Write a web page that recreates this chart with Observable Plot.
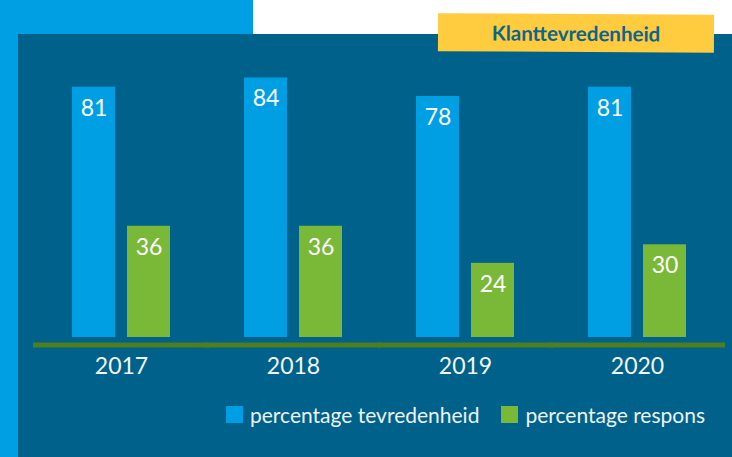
<!DOCTYPE html>
<html>
<head>
<meta charset="utf-8">
<script src="https://cdn.jsdelivr.net/npm/d3@7"></script>
<script src="https://cdn.jsdelivr.net/npm/@observablehq/plot@0.6"></script>
<style>
  html, body { margin: 0; padding: 0; background: #ffffff; }
  #wrap { position: relative; width: 732px; height: 457px; overflow: hidden; font-family: Lato, "Noto Sans", sans-serif; }
  .bg-light { position: absolute; left: 0; top: 0; width: 253px; height: 457px; background: #009FE3; }
  .bg-panel { position: absolute; left: 18px; top: 34px; right: 0; bottom: 0; background: #00618A; }
  #chart { position: absolute; left: 0; top: 0; }
  #badge { position: absolute; left: 438px; top: 14px; width: 276px; height: 37.5px; background: #FFCB3F;
           transform: rotate(0.35deg); display: flex; align-items: center; justify-content: center;
           font-weight: 700; font-size: 20.5px; color: #0F648A; }
  #legend { position: absolute; left: 226px; top: 402px; display: flex; align-items: center;
            font-size: 21px; color: #EEF3F6; white-space: nowrap; }
  .sw { width: 17px; height: 17px; display: inline-block; margin-right: 7px; }
  .item { display: flex; align-items: center; margin-right: 22px; }
</style>
</head>
<body>
<div id="wrap">
  <div class="bg-light"></div>
  <div class="bg-panel"></div>
  <div id="chart"></div>
  <div id="badge">Klanttevredenheid</div>
  <div id="legend"></div>
</div>
<script>
const years = ["2017", "2018", "2019", "2020"];
const tevredenheid = [81, 84, 78, 81];
const respons = [36, 36, 24, 30];
const seriesNames = ["percentage tevredenheid", "percentage respons"];
const seriesColors = ["#009FE3", "#7AB838"];

const data = years.flatMap((yr, i) => [
  {year: yr, series: seriesNames[0], value: tevredenheid[i]},
  {year: yr, series: seriesNames[1], value: respons[i]}
]);

const chart = Plot.plot({
  width: 732,
  height: 457,
  marginLeft: 35,
  marginRight: 9,
  marginTop: 28,
  marginBottom: 120,
  style: {background: "transparent", fontFamily: "Lato, 'Noto Sans', sans-serif", overflow: "visible"},
  fx: {domain: years, padding: 0, axis: null},
  x: {domain: seriesNames, paddingInner: 0.2143, paddingOuter: 0.643, axis: null},
  y: {domain: [0, 100], axis: null},
  color: {domain: seriesNames, range: seriesColors},
  marks: [
    Plot.barY(data, {fx: "year", x: "series", y: "value", fill: "series"}),
    Plot.text(data, {fx: "year", x: "series", y: "value", text: d => String(d.value),
      dy: 21, fill: "#ffffff", fontSize: 23}),
    Plot.ruleY([0], {dy: 7.5, stroke: "#4E7F1F", strokeWidth: 5, insetLeft: -2, insetRight: -2}),
    Plot.text(years, {fx: d => d, text: d => d, frameAnchor: "bottom", dy: 36,
      fill: "#F2F6F8", fontSize: 23})
  ]
});
document.getElementById("chart").appendChild(chart);

const legend = document.getElementById("legend");
seriesNames.forEach((name, i) => {
  const item = document.createElement("div");
  item.className = "item";
  const sw = document.createElement("span");
  sw.className = "sw";
  sw.style.background = seriesColors[i];
  const label = document.createElement("span");
  label.textContent = name;
  item.appendChild(sw);
  item.appendChild(label);
  legend.appendChild(item);
});
</script>
</body>
</html>
